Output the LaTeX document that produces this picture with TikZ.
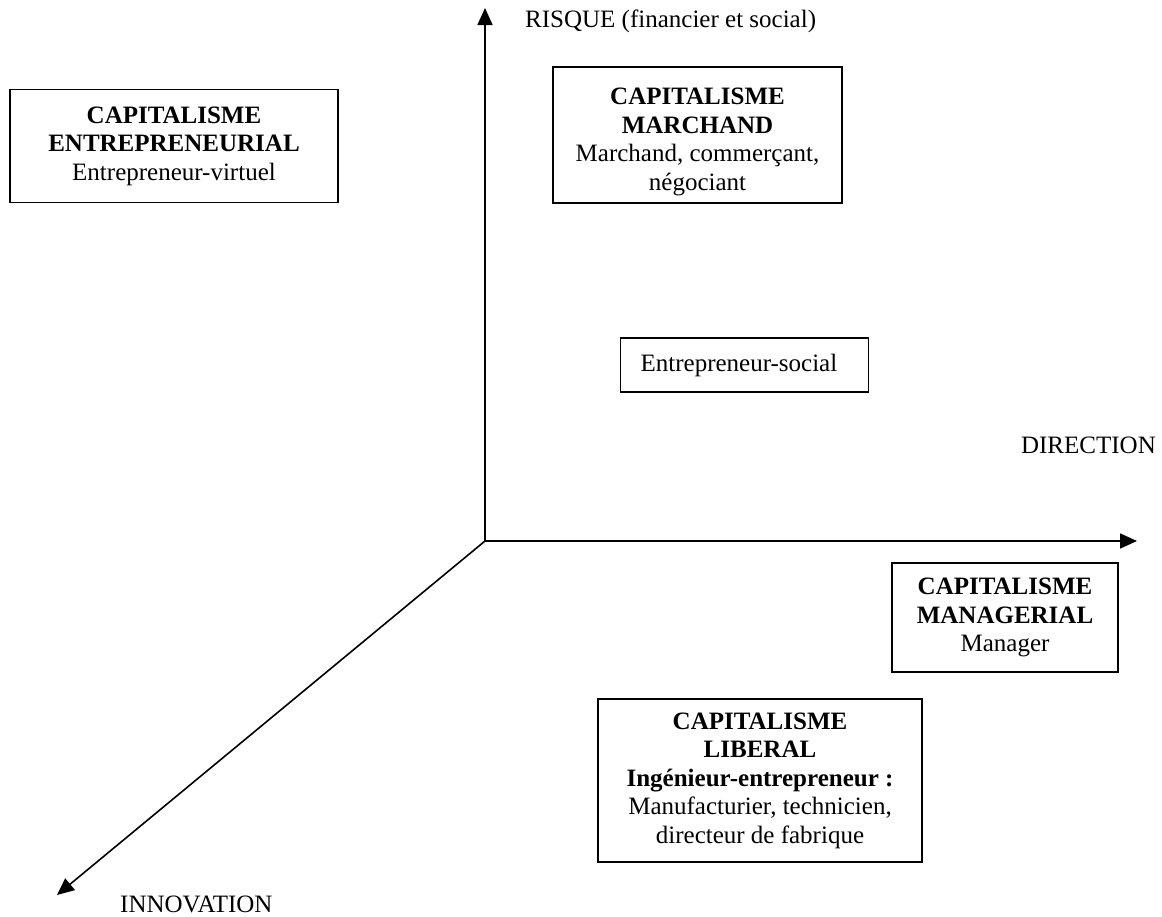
\documentclass[tikz,border=0pt]{standalone}
\usepackage{fontspec}
\setmainfont{Liberation Serif}
\usetikzlibrary{arrows.meta}
\begin{document}
\begin{tikzpicture}[x=1pt,y=-1pt,
  txt/.style={font=\fontsize{25}{28.5}\selectfont},
  capbox/.style={txt, draw, line width=1.2pt, inner sep=0pt, align=center},
  axis/.style={line width=1.6pt, -{Triangle[length=17pt,width=15pt]}},
  lbl/.style={txt, inner sep=0pt}]
\useasboundingbox (0,0) rectangle (1162,916);
\fill[white] (0,0) rectangle (1162,916);
\coordinate (O) at (485,541);
\coordinate (Ytip) at (485,8);
\coordinate (Xtip) at (1137,541);
\coordinate (Ztip) at (57,895);
\draw[axis] (O) -- (Ytip);
\draw[axis] (O) -- (Xtip);
\draw[axis] (O) -- (Ztip);
\node[lbl, anchor=base west] (risque) at (525,27) {RISQUE (financier et social)};
\node[lbl, anchor=east] (direction) at (1156,445) {DIRECTION};
\node[lbl, anchor=base west] (innovation) at (120,912) {INNOVATION};
\node[capbox, minimum width=328pt, minimum height=113pt] (ent) at (174,146)
  {\textbf{CAPITALISME}\\\textbf{ENTREPRENEURIAL}\\Entrepreneur-virtuel};
\node[capbox, minimum width=289pt, minimum height=136pt] (mar) at (697.5,135)
  {\rule{0pt}{30pt}\textbf{CAPITALISME}\\\textbf{MARCHAND}\\Marchand, commerçant,\\négociant};
\node[txt, draw, line width=1.2pt, anchor=west, inner xsep=20pt, inner ysep=0pt,
  minimum height=54pt, text width=208pt, align=left] (soc) at (620,365) {Entrepreneur-social};
\node[capbox, minimum width=226pt, minimum height=109pt] (man) at (1005,617.5)
  {\textbf{CAPITALISME}\\\textbf{MANAGERIAL}\\Manager};
\node[capbox, minimum width=324pt, minimum height=163pt] (lib) at (760,780.5)
  {\textbf{CAPITALISME}\\\textbf{LIBERAL}\\\textbf{Ingénieur-entrepreneur :}\\Manufacturier, technicien,\\directeur de fabrique};
\end{tikzpicture}
\end{document}
